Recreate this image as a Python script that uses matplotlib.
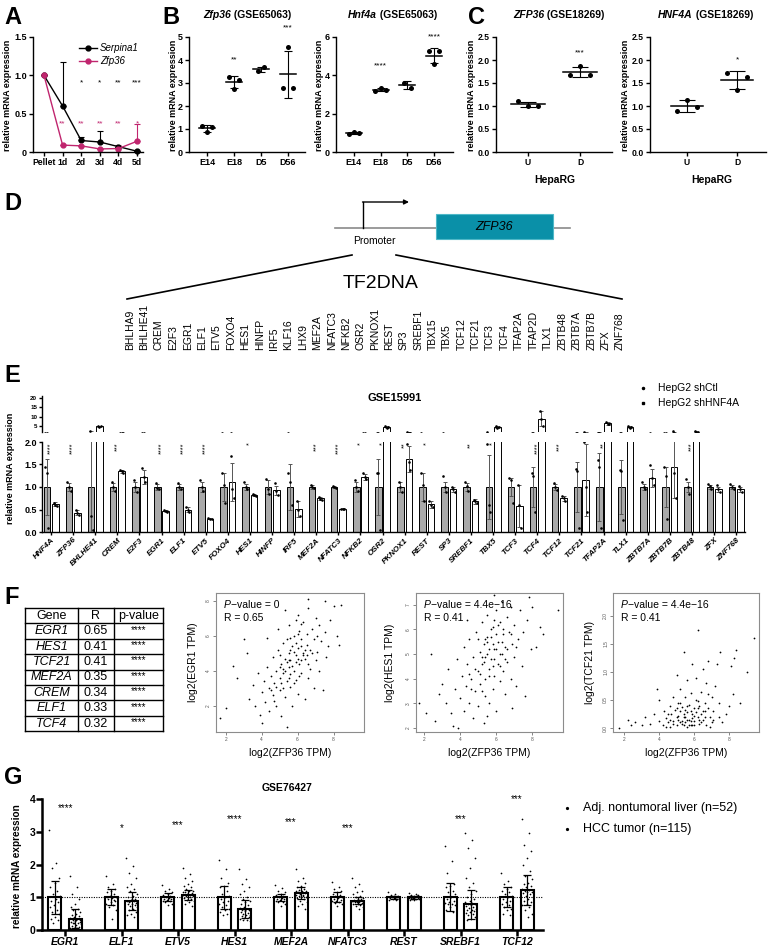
import numpy as np
import matplotlib
matplotlib.use("Agg")
import matplotlib.pyplot as plt
from matplotlib.patches import Rectangle

plt.rcParams['font.family'] = ['Liberation Sans', 'DejaVu Sans']

W, H = 768, 947

# ---------------- data ----------------
# A
a_days = ['Pellet', '1d', '2d', '3d', '4d', '5d']
serpina1 = [1.0, 0.6, 0.15, 0.13, 0.07, 0.01]
serpina1_err = [0, 0.58, 0.05, 0.14, 0, 0]
zfp36_a = [1.0, 0.09, 0.08, 0.04, 0.045, 0.14]
zfp36_a_err = [0, 0, 0, 0, 0.04, 0.23]
a_stars_k = ['', '', '*', '*', '**', '***']
a_stars_m = ['', '**', '**', '**', '**', '*']

# B
b_groups = ['E14', 'E18', 'D5', 'D56']
b_zfp36_pts = [[1.15, 0.85, 1.1], [3.25, 2.75, 3.15], [3.52, 3.68], [2.8, 4.57, 2.8]]
b_zfp36_stars = ['', '**', '', '***']
b_zfp36_star_y = [0, 4.0, 0, 5.4]
b_hnf4a_pts = [[0.95, 1.05, 0.97], [3.2, 3.32, 3.25], [3.62, 3.33], [5.25, 4.6, 5.25]]
b_hnf4a_stars = ['', '****', '', '****']
b_hnf4a_star_y = [0, 4.5, 0, 6.0]

# C
c_groups = ['U', 'D']
c_zfp36_pts = [[1.1, 1.0, 1.0], [1.67, 1.87, 1.67]]
c_zfp36_stars = ['', '***']
c_zfp36_star_y = [0, 2.15]
c_hnf4a_pts = [[0.9, 1.14, 0.97], [1.71, 1.35, 1.64]]
c_hnf4a_stars = ['', '*']
c_hnf4a_star_y = [0, 2.0]

# D
tf_list = ['BHLHA9', 'BHLHE41', 'CREM', 'E2F3', 'EGR1', 'ELF1', 'ETV5', 'FOXO4',
           'HES1', 'HINFP', 'IRF5', 'KLF16', 'LHX9', 'MEF2A', 'NFATC3', 'NFKB2',
           'OSR2', 'PKNOX1', 'REST', 'SP3', 'SREBF1', 'TBX15', 'TBX5', 'TCF12',
           'TCF21', 'TCF3', 'TCF4', 'TFAP2A', 'TFAP2D', 'TLX1', 'ZBTB48', 'ZBTB7A',
           'ZBTB7B', 'ZFX', 'ZNF768']

# E
e_genes = ['HNF4A', 'ZFP36', 'BHLHE41', 'CREM', 'E2F3', 'EGR1', 'ELF1', 'ETV5', 'FOXO4',
           'HES1', 'HINFP', 'IRF5', 'MEF2A', 'NFATC3', 'NFKB2', 'OSR2', 'PKNOX1', 'REST',
           'SP3', 'SREBF1', 'TBX5', 'TCF3', 'TCF4', 'TCF12', 'TCF21', 'TFAP2A', 'TLX1',
           'ZBTB7A', 'ZBTB7B', 'ZBTB48', 'ZFX', 'ZNF768']
e_ctl_mean = [1.0] * len(e_genes)
e_ctl_sd = [0.62, 0.08, 1.3, 0.08, 0.12, 0.06, 0.06, 0.1, 0.32, 0.06, 0.15, 0.5, 0.04, 0.03,
            0.1, 0.62, 0.1, 0.3, 0.12, 0.08, 0.72, 0.2, 0.45, 0.06, 0.55, 0.75, 0.6, 0.06,
            0.45, 0.1, 0.04, 0.04]
e_sh_mean = [0.62, 0.43, 5.0, 1.35, 1.22, 0.47, 0.5, 0.3, 1.12, 0.82, 0.93, 0.52, 0.75, 0.52,
             1.22, 4.7, 1.62, 0.62, 0.95, 0.68, 4.6, 0.58, 9.0, 0.75, 1.15, 6.5, 4.5, 1.2,
             1.45, 2.2, 0.95, 0.95]
e_sh_sd = [0.04, 0.06, 0.4, 0.03, 0.15, 0.03, 0.05, 0.02, 0.42, 0.02, 0.1, 0.18, 0.03, 0.01,
           0.06, 0.5, 0.28, 0.08, 0.05, 0.05, 0.6, 0.47, 4.0, 0.05, 0.8, 1.0, 0.5, 0.2,
           0.7, 0.1, 0.06, 0.05]
e_ctl_pts = [[1.45, 1.3, 0.08], [1.1, 1.0, 0.92], [2.6, 0.35, 0.05], [1.1, 1.0, 0.92],
             [1.15, 1.0, 0.88], [1.08, 0.98, 0.95], [1.08, 1.0, 0.95], [1.15, 1.0, 0.92],
             [1.3, 1.05, 0.65], [1.1, 1.0, 0.96], [1.18, 0.95, 0.85], [1.3, 1.1, 0.6],
             [1.05, 1.0, 0.97], [1.03, 1.0, 0.97], [1.15, 1.0, 0.92], [1.3, 1.3, 0.05],
             [1.12, 1.0, 0.9], [1.3, 1.05, 0.7], [1.25, 1.0, 0.9], [1.1, 1.02, 0.92],
             [1.95, 0.6, 0.45], [1.2, 1.15, 0.65], [1.3, 1.25, 0.45], [1.08, 1.0, 0.94],
             [1.4, 1.35, 0.1], [1.6, 1.45, 0.1], [1.38, 1.35, 0.27], [1.1, 1.0, 0.95],
             [1.45, 1.25, 0.3], [1.18, 1.0, 0.85], [1.07, 1.03, 0.95], [1.07, 1.0, 0.96]]
e_sh_pts = [[0.65, 0.6, 0.58], [0.5, 0.42, 0.38], [5.3, 4.6, 5.1], [1.38, 1.36, 1.32],
            [1.42, 1.22, 1.1], [0.5, 0.47, 0.44], [0.55, 0.5, 0.45], [0.31, 0.3, 0.28],
            [1.68, 0.95, 0.75], [0.85, 0.82, 0.8], [1.08, 0.92, 0.82], [0.7, 0.5, 0.36],
            [0.78, 0.74, 0.72], [0.52, 0.52, 0.51], [1.3, 1.22, 1.18], [5.0, 4.3, 4.8],
            [1.95, 1.55, 1.38], [0.7, 0.6, 0.56], [1.0, 0.95, 0.9], [0.72, 0.68, 0.64],
            [5.1, 4.0, 4.7], [1.05, 0.6, 0.1], [13.0, 9.0, 5.0], [0.8, 0.75, 0.7],
            [2.0, 1.0, 0.45], [7.5, 6.0, 6.0], [5.0, 4.0, 4.5], [1.48, 1.2, 1.05],
            [2.3, 1.3, 0.75], [2.3, 2.2, 2.1], [1.05, 0.95, 0.9], [1.03, 0.95, 0.9]]
e_stars = ['****', '****', '', '***', '', '****', '****', '****', '', '*', '', '', '***',
           '****', '*', '*', '**', '*', '', '**', '*', '', '****', '***', '', '**', '', '',
           '', '***', '', '']

# F table
f_genes = ['EGR1', 'HES1', 'TCF21', 'MEF2A', 'CREM', 'ELF1', 'TCF4']
f_r = ['0.65', '0.41', '0.41', '0.35', '0.34', '0.33', '0.32']
f_p = ['****'] * 7

# F scatter (log2 TPM)
egr1_x = [1.7, 2.0, 2.4, 2.6, 3.0, 3.2, 3.3, 3.5, 3.6, 3.8, 3.9, 4.0, 4.0, 4.1, 4.2, 4.3, 4.4, 4.4,
          4.5, 4.6, 4.6, 4.7, 4.8, 4.8, 4.9, 5.0, 5.0, 5.1, 5.1, 5.2, 5.2, 5.3, 5.3, 5.4, 5.4, 5.5,
          5.5, 5.5, 5.6, 5.6, 5.7, 5.7, 5.8, 5.8, 5.9, 5.9, 6.0, 6.0, 6.0, 6.1, 6.1, 6.2, 6.2, 6.3,
          6.3, 6.4, 6.4, 6.5, 6.5, 6.6, 6.6, 6.7, 6.7, 6.8, 6.9, 6.9, 7.0, 7.0, 7.1, 7.2, 7.2, 7.3,
          7.4, 7.5, 7.5, 7.6, 7.7, 7.8, 8.0, 8.2, 8.4, 8.3, 4.9, 5.3, 6.6, 4.3, 5.0, 5.6, 6.2, 5.9,
          5.2, 5.4, 5.6, 5.8, 6.0, 6.2, 5.1, 5.3, 5.5, 5.7, 5.9, 6.1, 6.3, 4.8, 5.0, 6.4, 6.6, 4.7,
          5.6, 6.0, 5.8, 5.4, 6.2, 6.8, 4.5, 5.2, 5.9, 6.5, 7.1, 5.5]
egr1_y = [1.3, 1.9, 4.3, 3.6, 5.8, 5.0, 2.4, 3.2, 2.0, 3.9, 1.5, 1.0, 2.8, 3.4, 2.2, 4.2, 3.0, 1.7,
          3.7, 2.6, 4.8, 3.3, 2.0, 4.0, 5.2, 3.6, 2.9, 4.4, 1.4, 3.9, 5.6, 4.7, 2.5, 0.8, 3.4, 4.2,
          5.0, 6.6, 3.1, 4.6, 5.4, 2.0, 4.0, 6.0, 4.9, 3.5, 5.3, 7.2, 2.7, 4.4, 6.3, 5.8, 3.9, 5.0,
          6.8, 4.7, 2.4, 5.5, 6.1, 3.6, 7.6, 5.2, 4.1, 6.4, 5.8, 3.0, 4.6, 7.0, 5.1, 6.6, 4.0, 5.7,
          2.9, 6.2, 8.0, 4.8, 5.4, 6.9, 7.7, 6.0, 7.8, 5.5, 6.4, 7.5, 8.1, 5.9, 4.9, 5.9, 4.6, 6.9,
          4.1, 4.5, 3.8, 5.1, 4.7, 5.4, 3.3, 4.0, 4.6, 4.3, 5.6, 3.7, 4.9, 3.1, 4.2, 5.2, 4.4, 2.3,
          5.2, 6.1, 3.3, 5.8, 6.7, 5.0, 2.9, 3.0, 4.5, 4.9, 6.0, 3.6]
hes1_x = [1.7, 2.1, 2.4, 2.6, 2.8, 3.0, 3.2, 3.3, 3.5, 3.6, 3.7, 3.8, 3.9, 4.0, 4.1, 4.2, 4.2, 4.3,
          4.4, 4.5, 4.5, 4.6, 4.7, 4.7, 4.8, 4.9, 5.0, 5.0, 5.1, 5.1, 5.2, 5.2, 5.3, 5.3, 5.4, 5.4,
          5.5, 5.5, 5.6, 5.6, 5.7, 5.7, 5.8, 5.8, 5.9, 5.9, 6.0, 6.0, 6.1, 6.1, 6.2, 6.2, 6.3, 6.3,
          6.4, 6.4, 6.5, 6.5, 6.6, 6.6, 6.7, 6.8, 6.8, 6.9, 7.0, 7.0, 7.1, 7.2, 7.3, 7.4, 7.5, 7.6,
          7.7, 7.9, 8.0, 8.2, 8.4, 8.6, 9.4, 7.8, 5.9, 4.4, 6.9, 5.5,
          5.2, 5.4, 5.6, 5.8, 6.0, 6.2, 5.1, 5.3, 5.5, 5.7, 5.9, 6.1, 6.3, 4.8, 5.0, 6.4, 6.6, 4.6,
          5.6, 6.0, 5.8, 5.4, 6.2, 6.8, 4.5, 5.2, 5.9, 6.5, 7.1, 5.5]
hes1_y = [3.0, 2.6, 5.0, 2.3, 3.4, 3.8, 3.0, 4.4, 2.6, 2.1, 3.6, 4.8, 2.0, 3.2, 4.1, 5.3, 2.7, 3.7,
          4.6, 3.0, 5.6, 4.0, 2.4, 4.9, 3.5, 5.9, 4.3, 2.9, 5.1, 3.8, 6.3, 4.6, 2.2, 5.4, 4.0, 3.3,
          5.0, 6.6, 4.4, 3.0, 5.7, 4.8, 3.6, 6.1, 5.2, 4.1, 6.8, 2.7, 5.5, 4.6, 3.9, 6.3, 5.0, 7.1,
          4.3, 5.8, 3.4, 5.3, 6.5, 4.7, 5.9, 4.0, 6.9, 5.4, 4.9, 6.2, 3.7, 5.6, 6.8, 4.5, 5.9, 3.3,
          6.4, 5.2, 6.9, 5.3, 6.1, 5.8, 6.8, 7.3, 7.4, 6.4, 2.8, 2.5,
          4.9, 5.6, 5.2, 4.5, 5.8, 5.0, 4.2, 4.7, 5.5, 6.0, 4.8, 6.2, 5.5, 4.4, 5.6, 6.0, 5.2, 3.6,
          4.1, 5.2, 5.4, 4.9, 4.5, 5.8, 4.2, 3.5, 6.4, 4.8, 5.3, 5.7]
tcf21_x = [1.7, 2.2, 2.4, 2.6, 3.0, 3.2, 3.5, 3.7, 3.9, 4.0, 4.0, 4.2, 4.3, 4.4, 4.5, 4.6, 4.6, 4.7,
           4.8, 4.8, 4.9, 5.0, 5.0, 5.1, 5.1, 5.2, 5.2, 5.3, 5.3, 5.4, 5.4, 5.5, 5.5, 5.6, 5.6, 5.7,
           5.7, 5.8, 5.8, 5.9, 5.9, 6.0, 6.0, 6.1, 6.1, 6.2, 6.2, 6.3, 6.3, 6.4, 6.4, 6.5, 6.5, 6.6,
           6.6, 6.7, 6.7, 6.8, 6.8, 6.9, 7.0, 7.0, 7.1, 7.2, 7.3, 7.4, 7.4, 7.5, 7.6, 7.8, 8.0, 8.1,
           8.2, 8.3, 8.4, 8.6, 9.0, 9.4, 5.0, 4.4, 6.9, 5.6,
           5.2, 5.4, 5.6, 5.8, 6.0, 6.2, 5.1, 5.3, 5.5, 5.7, 5.9, 6.1, 6.3, 4.8, 5.0, 6.4, 6.6, 4.6,
           5.6, 6.0, 5.8, 5.4, 6.2, 6.8, 4.5, 5.2, 5.9, 6.5, 7.1, 5.5]
tcf21_y = [0.0, 0.15, 0.05, 0.1, 0.05, 0.2, 0.08, 0.25, 0.7, 0.12, 0.5, 0.05, 0.3, 0.18, 0.1, 0.4,
           0.02, 0.25, 0.55, 0.12, 0.32, 0.05, 0.2, 0.45, 0.15, 0.7, 0.3, 0.08, 0.38, 0.2, 1.35,
           0.55, 0.1, 0.28, 0.85, 0.42, 0.15, 0.05, 0.62, 0.25, 1.15, 0.35, 0.12, 0.5, 0.9, 0.2,
           1.75, 0.4, 0.08, 0.65, 0.25, 1.05, 0.15, 0.45, 0.3, 0.8, 0.05, 0.35, 1.2, 0.2, 0.55,
           0.1, 0.3, 0.75, 1.15, 0.45, 0.2, 1.35, 0.1, 0.25, 0.4, 1.1, 0.6, 1.25, 1.4, 0.45, 1.0,
           1.6, 0.95, 0.02, 0.02, 0.02,
           0.1, 0.25, 0.15, 0.3, 0.05, 0.35, 0.22, 0.12, 0.32, 0.05, 0.18, 0.28, 0.15, 0.08, 0.35,
           0.1, 0.2, 0.15, 0.4, 0.22, 0.12, 0.05, 0.48, 0.6, 0.25, 0.45, 0.05, 0.3, 0.15, 0.2]

# G
g_genes = ['EGR1', 'ELF1', 'ETV5', 'HES1', 'MEF2A', 'NFATC3', 'REST', 'SREBF1', 'TCF12']
g_adj_mean = [1.0, 1.0, 1.0, 1.0, 1.0, 1.0, 1.0, 1.0, 1.0]
g_adj_sd = [0.5, 0.25, 0.12, 0.35, 0.1, 0.15, 0.05, 0.43, 0.3]
g_hcc_mean = [0.35, 0.88, 1.08, 0.65, 1.12, 0.9, 1.0, 0.78, 1.22]
g_hcc_sd = [0.3, 0.28, 0.15, 0.28, 0.18, 0.12, 0.05, 0.45, 0.45]
g_stars = ['****', '*', '***', '****', '***', '***', '', '***', '***']
g_star_y = [3.72, 3.1, 3.2, 3.4, 3.3, 3.1, 0, 3.4, 4.0]
g_adj_pts = [
    [3.05, 2.05, 1.9, 1.6, 1.45, 1.3, 1.2, 1.1, 1.05, 0.95, 0.9, 0.85, 0.75, 0.7, 0.6, 0.55, 0.5, 0.4, 0.35, 0.3, 0.2],
    [1.65, 1.4, 1.3, 1.25, 1.2, 1.15, 1.1, 1.05, 1.0, 0.98, 0.95, 0.9, 0.85, 0.8, 0.75, 0.7, 0.6, 0.35, 1.02, 0.92],
    [1.38, 1.25, 1.2, 1.15, 1.1, 1.08, 1.05, 1.02, 1.0, 0.98, 0.96, 0.94, 0.92, 0.9, 0.88, 0.85, 0.8, 0.75],
    [2.15, 1.85, 1.6, 1.45, 1.35, 1.3, 1.2, 1.1, 1.05, 1.0, 0.95, 0.9, 0.85, 0.8, 0.75, 0.7, 0.65, 0.6, 0.55, 0.5, 0.45],
    [1.38, 1.28, 1.2, 1.15, 1.1, 1.07, 1.05, 1.02, 1.0, 0.98, 0.96, 0.94, 0.92, 0.9, 0.87, 0.84, 0.8, 0.72],
    [1.48, 1.3, 1.25, 1.2, 1.15, 1.1, 1.07, 1.04, 1.0, 0.97, 0.95, 0.92, 0.9, 0.88, 0.85, 0.82, 0.78, 0.72],
    [1.15, 1.1, 1.08, 1.05, 1.03, 1.02, 1.01, 1.0, 0.99, 0.98, 0.97, 0.96, 0.95, 0.93, 0.92, 1.04],
    [2.55, 2.1, 1.75, 1.4, 1.35, 1.3, 1.2, 1.15, 1.1, 1.0, 0.95, 0.9, 0.85, 0.82, 0.8, 0.78, 0.75, 0.7, 0.6, 0.55],
    [1.75, 1.5, 1.4, 1.3, 1.25, 1.2, 1.15, 1.1, 1.05, 1.0, 0.95, 0.9, 0.85, 0.8, 0.75, 0.7, 0.65, 0.6, 0.5, 0.45],
]
g_hcc_pts = [
    [1.65, 1.3, 1.1, 0.95, 0.8, 0.7, 0.65, 0.6, 0.55, 0.5, 0.45, 0.42, 0.4, 0.38, 0.35, 0.32, 0.3, 0.28, 0.25, 0.22, 0.2, 0.18, 0.15, 0.12, 0.1, 0.08, 0.06, 0.05, 0.2, 0.25, 0.3],
    [2.2, 1.95, 1.75, 1.6, 1.4, 1.3, 1.25, 1.2, 1.1, 1.05, 1.0, 0.95, 0.92, 0.9, 0.88, 0.85, 0.82, 0.8, 0.78, 0.75, 0.72, 0.7, 0.65, 0.6, 0.55, 0.5, 0.45, 0.4, 0.9, 0.85, 0.95],
    [1.9, 1.7, 1.6, 1.5, 1.4, 1.35, 1.3, 1.25, 1.2, 1.18, 1.15, 1.12, 1.1, 1.08, 1.06, 1.05, 1.03, 1.0, 0.98, 0.95, 0.92, 0.9, 0.85, 0.8, 0.72, 1.1, 1.15, 1.02],
    [1.85, 1.55, 1.4, 1.3, 1.2, 1.1, 1.0, 0.95, 0.9, 0.85, 0.8, 0.75, 0.7, 0.68, 0.65, 0.62, 0.6, 0.57, 0.55, 0.52, 0.5, 0.47, 0.45, 0.42, 0.4, 0.37, 0.35, 0.32, 0.3, 0.28, 0.6],
    [1.85, 1.6, 1.5, 1.42, 1.35, 1.3, 1.25, 1.22, 1.2, 1.18, 1.15, 1.13, 1.1, 1.08, 1.06, 1.04, 1.02, 1.0, 0.97, 0.94, 0.9, 0.85, 0.8, 0.72, 0.65, 1.12, 1.2, 1.05],
    [1.6, 1.4, 1.3, 1.2, 1.15, 1.1, 1.05, 1.0, 0.98, 0.95, 0.93, 0.91, 0.9, 0.88, 0.86, 0.84, 0.82, 0.8, 0.78, 0.75, 0.72, 0.7, 0.65, 0.9, 0.95, 0.85, 0.88],
    [1.12, 1.1, 1.08, 1.06, 1.05, 1.04, 1.03, 1.02, 1.01, 1.0, 1.0, 0.99, 0.98, 0.97, 0.96, 0.95, 0.94, 0.93, 0.92, 1.03, 1.01, 0.99, 1.02, 0.98],
    [2.95, 2.75, 2.5, 2.2, 1.9, 1.6, 1.45, 1.3, 1.2, 1.1, 1.0, 0.95, 0.9, 0.85, 0.82, 0.8, 0.78, 0.75, 0.72, 0.7, 0.67, 0.65, 0.62, 0.6, 0.58, 0.55, 0.52, 0.5, 0.45, 0.4, 0.35, 0.3],
    [3.4, 2.95, 2.6, 2.4, 2.2, 2.0, 1.8, 1.65, 1.55, 1.45, 1.4, 1.35, 1.3, 1.25, 1.22, 1.2, 1.17, 1.15, 1.12, 1.1, 1.05, 1.0, 0.95, 0.9, 0.85, 0.8, 0.75, 0.7, 0.6, 0.5, 0.4],
]

MAGENTA = '#c0256e'

# ---------------- figure ----------------
fig = plt.figure(figsize=(W / 100, H / 100), dpi=100)
ov = fig.add_axes([0, 0, 1, 1], zorder=5)
ov.set_xlim(0, W)
ov.set_ylim(H, 0)
ov.axis('off')
ov.patch.set_alpha(0)


def add_ax(l, t, r, b):
    return fig.add_axes([l / W, 1 - b / H, (r - l) / W, (b - t) / H])


def prism(ax, lw=1.0, fs=6.5, length=3, pad=1.5):
    ax.spines['top'].set_visible(False)
    ax.spines['right'].set_visible(False)
    ax.spines['left'].set_linewidth(lw)
    ax.spines['bottom'].set_linewidth(lw)
    ax.tick_params(width=lw, length=length, labelsize=fs, pad=pad)
    for t in ax.get_xticklabels() + ax.get_yticklabels():
        t.set_fontweight('bold')


def chain(x, y, parts, fs):
    # parts: list of (text, weight, style), drawn one after another
    t = ov.text(x, y, parts[0][0], fontsize=fs, fontweight=parts[0][1],
                fontstyle=parts[0][2], ha='left', va='center')
    for txt, wt, st in parts[1:]:
        t = ov.annotate(txt, xy=(1, 0), xycoords=t, ha='left', va='bottom',
                        fontsize=fs, fontweight=wt, fontstyle=st)


def ylab(x, y, text, fs=6.5):
    ov.text(x, y, text, rotation=90, ha='center', va='center', fontsize=fs, fontweight='bold')


def spread(n, w):
    k = np.arange(n)
    return ((k * 0.618034) % 1 - 0.5) * 2 * w


# panel letters
for letter, (lx, ly) in {'A': (4, 6), 'B': (162, 6), 'C': (468, 6), 'D': (4, 192),
                         'E': (4, 364), 'F': (4, 586), 'G': (4, 766)}.items():
    ov.text(lx, ly, letter, fontsize=17, fontweight='bold', ha='left', va='top')

# ---- A ----
axa = add_ax(33, 37, 143, 152)
xa = np.arange(len(a_days))
axa.errorbar(xa, serpina1, yerr=[np.zeros(6), serpina1_err], color='k', marker='o', ms=3.5,
             lw=1, elinewidth=0.8, capsize=2.5, capthick=0.8, clip_on=False)
axa.errorbar(xa, zfp36_a, yerr=[np.zeros(6), zfp36_a_err], color=MAGENTA, marker='o', ms=3.5,
             lw=1, elinewidth=0.8, capsize=2.5, capthick=0.8, clip_on=False)
for i in range(6):
    if a_stars_k[i]:
        axa.text(i, 0.9, a_stars_k[i], ha='center', va='center', fontsize=6, color='k')
    if a_stars_m[i]:
        axa.text(i, 0.37, a_stars_m[i], ha='center', va='center', fontsize=6, color=MAGENTA)
axa.set_xlim(-0.59, 5.32)
axa.set_ylim(0, 1.5)
axa.set_yticks([0, 0.5, 1.0, 1.5])
axa.set_yticklabels(['0', '0.5', '1.0', '1.5'])
axa.set_xticks(xa)
axa.set_xticklabels(a_days)
prism(axa)
axa.tick_params(axis='x', pad=1, labelsize=6.2)
ylab(8, 95, 'relative mRNA expression')
ov.plot([79, 97], [48, 48], color='k', lw=1)
ov.plot([88], [48], 'o', color='k', ms=3.5)
ov.plot([79, 97], [61, 61], color=MAGENTA, lw=1)
ov.plot([88], [61], 'o', color=MAGENTA, ms=3.5)
ov.text(100, 48, 'Serpina1', fontsize=7, fontstyle='italic', va='center')
ov.text(100, 61, 'Zfp36', fontsize=7, fontstyle='italic', va='center')


def dot_panel(ax, pts_list, stars, star_y, half=0.3, cap=3):
    for i, p in enumerate(pts_list):
        p = np.array(p)
        m = p.mean()
        s = p.std(ddof=1)
        if len(p) == 3:
            offs = np.array([-0.2, 0.0, 0.2])
        else:
            offs = np.array([-0.12, 0.12])
        ax.plot([i - half, i + half], [m, m], color='k', lw=1.1)
        ax.errorbar(i, m, yerr=s, color='k', elinewidth=0.8, capsize=cap, capthick=0.8)
        ax.scatter(i + offs, p, s=13, color='k', zorder=3, clip_on=False, lw=0)
        if stars[i]:
            ax.text(i, star_y[i], stars[i], ha='center', va='center', fontsize=6, clip_on=False)


# ---- B ----
axb1 = add_ax(189, 37, 305, 152)
dot_panel(axb1, b_zfp36_pts, b_zfp36_stars, b_zfp36_star_y)
axb1.set_xlim(-0.67, 3.63)
axb1.set_ylim(0, 5)
axb1.set_yticks([0, 1, 2, 3, 4, 5])
axb1.set_xticks(range(4))
axb1.set_xticklabels(b_groups)
prism(axb1)
ylab(173, 95, 'relative mRNA expression')
chain(203, 15, [('Zfp36', 'bold', 'italic'), (' (GSE65063)', 'bold', 'normal')], 7.5)

axb2 = add_ax(336, 37, 453, 152)
dot_panel(axb2, b_hnf4a_pts, b_hnf4a_stars, b_hnf4a_star_y)
axb2.set_xlim(-0.67, 3.71)
axb2.set_ylim(0, 6)
axb2.set_yticks([0, 2, 4, 6])
axb2.set_xticks(range(4))
axb2.set_xticklabels(b_groups)
prism(axb2)
ylab(319, 95, 'relative mRNA expression')
chain(348, 15, [('Hnf4a', 'bold', 'italic'), (' (GSE65063)', 'bold', 'normal')], 7.5)

# ---- C ----
axc1 = add_ax(496, 37, 612, 152)
dot_panel(axc1, c_zfp36_pts, c_zfp36_stars, c_zfp36_star_y, half=0.32, cap=6)
axc1.set_xlim(-0.615, 1.615)
axc1.set_ylim(0, 2.5)
axc1.set_yticks([0, 0.5, 1.0, 1.5, 2.0, 2.5])
axc1.set_xticks(range(2))
axc1.set_xticklabels(c_groups)
prism(axc1, fs=6.2)
ylab(471, 95, 'relative mRNA expression')
ov.text(555, 180, 'HepaRG', fontsize=7.5, fontweight='bold', ha='center', va='center')
chain(513, 15, [('ZFP36', 'bold', 'italic'), (' (GSE18269)', 'bold', 'normal')], 7.5)

axc2 = add_ax(650, 37, 766, 152)
dot_panel(axc2, c_hnf4a_pts, c_hnf4a_stars, c_hnf4a_star_y, half=0.32, cap=6)
axc2.set_xlim(-0.73, 1.57)
axc2.set_ylim(0, 2.5)
axc2.set_yticks([0, 0.5, 1.0, 1.5, 2.0, 2.5])
axc2.set_xticks(range(2))
axc2.set_xticklabels(c_groups)
prism(axc2, fs=6.2)
ylab(625, 95, 'relative mRNA expression')
ov.text(712, 180, 'HepaRG', fontsize=7.5, fontweight='bold', ha='center', va='center')
chain(658, 15, [('HNF4A', 'bold', 'italic'), (' (GSE18269)', 'bold', 'normal')], 7.5)

# ---- D ----
ov.plot([335, 570], [228, 228], color='#8a8a8a', lw=1.2)
ov.add_patch(Rectangle((436, 214), 117, 25, facecolor='#0a90a8', edgecolor='#4fb8c8', lw=0.8, zorder=3))
ov.text(494, 227, 'ZFP36', fontsize=9, fontstyle='italic', ha='center', va='center', zorder=4)
ov.plot([363, 363], [228, 202], color='k', lw=1)
ov.annotate('', xy=(409, 202), xytext=(362.5, 202),
            arrowprops=dict(arrowstyle='-|>', color='k', lw=1, mutation_scale=7, shrinkA=0, shrinkB=0))
ov.text(374, 241, 'Promoter', fontsize=7.5, ha='center', va='center')
ov.plot([352, 127], [255, 299], color='k', lw=1.2)
ov.plot([396, 622], [255, 299], color='k', lw=1.2)
ov.text(381, 283, 'TF2DNA', fontsize=14, ha='center', va='center')
tf_x = np.linspace(130, 620, len(tf_list))
for x, name in zip(tf_x, tf_list):
    ov.text(x, 350, name, rotation=90, ha='center', va='bottom', fontsize=7.5)

# ---- E ----
xe = np.arange(len(e_genes))
e_lo = add_ax(42, 442, 745, 532)
e_hi = add_ax(42, 396, 745, 432)
for ax in (e_lo, e_hi):
    ax.bar(xe - 0.19, e_ctl_mean, 0.3, color='#a9a9a9', edgecolor='k', lw=0.7, zorder=2)
    ax.bar(xe + 0.19, e_sh_mean, 0.3, color='white', edgecolor='k', lw=0.7, zorder=2)
    ax.errorbar(xe - 0.19, e_ctl_mean, yerr=e_ctl_sd, fmt='none', ecolor='#555555',
                elinewidth=0.7, capsize=1.5, capthick=0.7, zorder=3)
    ax.errorbar(xe + 0.19, e_sh_mean, yerr=e_sh_sd, fmt='none', ecolor='#555555',
                elinewidth=0.7, capsize=1.5, capthick=0.7, zorder=3)
    for i in range(len(e_genes)):
        ax.scatter(xe[i] - 0.19 + np.array([-0.07, 0.0, 0.07]), e_ctl_pts[i], s=3.5, color='k', lw=0, zorder=4)
        ax.scatter(xe[i] + 0.19 + np.array([-0.07, 0.0, 0.07]), e_sh_pts[i], s=3.5, color='k', lw=0, zorder=4)
    ax.set_xlim(-0.41, 31.4)
e_lo.set_ylim(0, 2.0)
e_hi.set_ylim(2.0, 21)
for i, st in enumerate(e_stars):
    if st:
        e_lo.text(i, 1.99, st, rotation=90, ha='center', va='top', fontsize=5.2)
e_lo.set_yticks([0, 0.5, 1.0, 1.5, 2.0])
e_lo.set_yticklabels(['0.0', '0.5', '1.0', '1.5', '2.0'])
e_lo.set_xticks(xe)
e_lo.set_xticklabels(e_genes, rotation=45, ha='right', rotation_mode='anchor')
prism(e_lo, length=2)
for t in e_lo.get_xticklabels():
    t.set_fontstyle('italic')
    t.set_fontsize(5.8)
e_hi.set_yticks([5, 10, 15, 20])
prism(e_hi, length=2, fs=4.5)
e_hi.spines['bottom'].set_visible(False)
e_hi.set_xticks([])
ylab(11, 468, 'relative mRNA expression')
ov.text(395, 398, 'GSE15991', fontsize=8, fontweight='bold', ha='center', va='center')
ov.plot([643], [388], 'o', color='k', ms=1.5)
ov.plot([643], [403], 's', color='k', ms=1.5)
ov.text(658, 388, 'HepG2 shCtl', fontsize=7.5, va='center')
ov.text(658, 403, 'HepG2 shHNF4A', fontsize=7.5, va='center')

# ---- F table ----
col_x = [25, 78, 114, 163]
row_h = 15.4
top = 608
nrow = len(f_genes) + 1
for k in range(nrow + 1):
    ov.plot([col_x[0], col_x[-1]], [top + k * row_h] * 2, color='k', lw=1)
for cx in col_x:
    ov.plot([cx, cx], [top, top + nrow * row_h], color='k', lw=1)
centers = [(col_x[j] + col_x[j + 1]) / 2 for j in range(3)]
yc = top + row_h / 2
ov.text(centers[0], yc, 'Gene', fontsize=9, ha='center', va='center')
ov.text(centers[1], yc, 'R', fontsize=9, ha='center', va='center')
ov.text(centers[2], yc, 'p-value', fontsize=9, ha='center', va='center')
for k, (g, r, p) in enumerate(zip(f_genes, f_r, f_p)):
    yc = top + (k + 1.5) * row_h
    ov.text(centers[0], yc, g, fontsize=9, fontstyle='italic', ha='center', va='center')
    ov.text(centers[1], yc, r, fontsize=9, ha='center', va='center')
    ov.text(centers[2], yc - 1.5, p, fontsize=7, ha='center', va='center')


# ---- F scatters ----
def scatter_panel(box, xs, ys, xlim, ylim, yticks, yticklabels, ylabel_txt, pval, rval, ylab_x):
    l, t, r, b = box
    ax = add_ax(l, t, r, b)
    ax.scatter(xs, ys, s=1.6, color='k', lw=0)
    ax.set_xlim(*xlim)
    ax.set_ylim(*ylim)
    ax.set_xticks([2, 4, 6, 8])
    ax.set_yticks(yticks)
    ax.set_yticklabels(yticklabels, rotation=90, va='center')
    for s in ax.spines.values():
        s.set_color('#8c8c8c')
        s.set_linewidth(0.8)
    ax.tick_params(labelsize=3.5, length=2, width=0.5, colors='#555555', pad=1.5)
    ov.text((l + r) / 2, 753, 'log2(ZFP36 TPM)', fontsize=7.5, ha='center', va='center')
    ov.text(ylab_x, (t + b) / 2, ylabel_txt, fontsize=7.5, rotation=90, ha='center', va='center')
    chain(l + 8, t + 12, [('P', 'normal', 'italic'), ('\u2212value = ' + pval, 'normal', 'normal')], 7.5)
    ov.text(l + 8, t + 25, 'R = ' + rval, fontsize=7.5, ha='left', va='center')


scatter_panel((216, 593, 364, 732), egr1_x, egr1_y, (1.45, 9.7), (0.5, 8.46),
              [2, 4, 6, 8], ['2', '4', '6', '8'], 'log2(EGR1 TPM)', '0', '0.65', 193)
scatter_panel((416, 593, 563, 732), hes1_x, hes1_y, (1.55, 9.7), (1.84, 7.48),
              [2, 3, 4, 5, 6, 7], ['2', '3', '4', '5', '6', '7'], 'log2(HES1 TPM)', '4.4e\u221216', '0.41', 390)
scatter_panel((613, 593, 759, 732), tcf21_x, tcf21_y, (1.37, 9.7), (-0.07, 2.41),
              [0, 0.5, 1.0, 1.5, 2.0], ['0.0', '0.5', '1.0', '1.5', '2.0'], 'log2(TCF21 TPM)',
              '4.4e\u221216', '0.41', 590)

# ---- G ----
axg = add_ax(42, 799, 543, 930)
xg = np.arange(len(g_genes))
axg.bar(xg - 0.18, g_adj_mean, 0.23, color='white', edgecolor='k', lw=1.5, zorder=1)
axg.bar(xg + 0.18, g_hcc_mean, 0.23, color='white', edgecolor='k', lw=1.5, zorder=1)
for i in range(len(g_genes)):
    axg.scatter(xg[i] - 0.18 + spread(len(g_adj_pts[i]), 0.1), g_adj_pts[i], s=1.5, color='k', lw=0, zorder=2)
    axg.scatter(xg[i] + 0.18 + spread(len(g_hcc_pts[i]), 0.1), g_hcc_pts[i], s=1.5, color='k', lw=0, zorder=2)
    if g_stars[i]:
        axg.text(xg[i], g_star_y[i], g_stars[i], ha='center', va='center', fontsize=7)
axg.errorbar(xg - 0.18, g_adj_mean, yerr=g_adj_sd, fmt='none', ecolor='k', elinewidth=0.9,
             capsize=3, capthick=0.9, zorder=3)
axg.errorbar(xg + 0.18, g_hcc_mean, yerr=g_hcc_sd, fmt='none', ecolor='k', elinewidth=0.9,
             capsize=3, capthick=0.9, zorder=3)
axg.axhline(1.0, ls=(0, (1, 1.2)), color='k', lw=0.8, zorder=4)
axg.set_xlim(-0.41, 8.46)
axg.set_ylim(0, 4)
axg.set_yticks([0, 1, 2, 3, 4])
axg.set_xticks(xg)
axg.set_xticklabels(g_genes)
prism(axg, lw=1.8, fs=7.5, length=4, pad=0.8)
for t in axg.get_xticklabels():
    t.set_fontstyle('italic')
ylab(17, 866, 'relative mRNA expression', fs=7.2)
ov.text(287, 788, 'GSE76427', fontsize=7.5, fontweight='bold', ha='center', va='center')
ov.plot([567], [808], 'o', color='k', ms=1.3)
ov.plot([567], [829], 'o', color='k', ms=1.3)
ov.text(583, 808, 'Adj. nontumoral liver (n=52)', fontsize=9, va='center')
ov.text(583, 829, 'HCC tumor (n=115)', fontsize=9, va='center')

fig.savefig('out.png', dpi=100)
